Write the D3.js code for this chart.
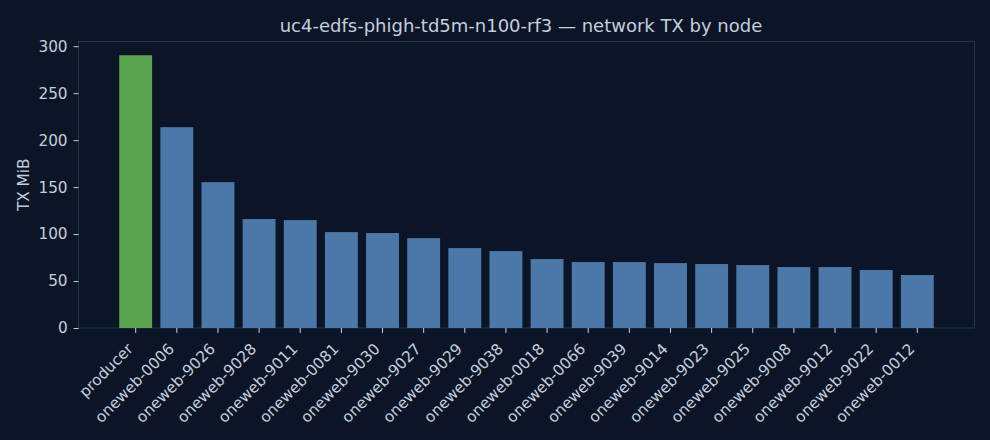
<!DOCTYPE html>
<html><head><meta charset="utf-8">
<script src="https://cdn.jsdelivr.net/npm/d3@7"></script>
<style>
html,body{margin:0;padding:0;background:#0b1527;}
svg{display:block;font-family:"DejaVu Sans",sans-serif;}
</style></head>
<body><svg id="c" width="990" height="440"></svg>
<script>
const nodes = ["producer","oneweb-0006","oneweb-9026","oneweb-9028","oneweb-9011","oneweb-0081","oneweb-9030","oneweb-9027","oneweb-9029","oneweb-9038","oneweb-0018","oneweb-0066","oneweb-9039","oneweb-9014","oneweb-9023","oneweb-9025","oneweb-9008","oneweb-9012","oneweb-9022","oneweb-0012"];
const txMiB = [290.4,213.8,155.3,116.0,114.9,102.1,101.1,95.7,85.1,81.9,73.4,70.2,70.2,69.1,68.1,67.0,64.9,64.9,61.7,56.4];
const yTicks = [0,50,100,150,200,250,300];
const title = "uc4-edfs-phigh-td5m-n100-rf3 — network TX by node";
const yLabel = "TX MiB";

const svg = d3.select("#c");
const L = 78.5, R = 974.5, T = 41.5, B = 328;
const textCol = "#c5cedd", frameCol = "#27344d";
const fs = "15.3px";

svg.append("rect").attr("width",990).attr("height",440).attr("fill","#0b1527");
svg.append("rect").attr("x",L).attr("y",T).attr("width",R-L).attr("height",B-T)
  .attr("fill","#0b1527").attr("stroke",frameCol).attr("stroke-width",1);

const x = d3.scaleBand().domain(nodes).range([L,R]).paddingInner(0.2).paddingOuter(0.99);
const y = d3.scaleLinear().domain([0, 305]).range([B, T]);

svg.append("g").selectAll("rect").data(nodes).join("rect")
  .attr("x", d => x(d)).attr("width", x.bandwidth())
  .attr("y", (d,i) => y(txMiB[i])).attr("height", (d,i) => B - y(txMiB[i]))
  .attr("fill", (d,i) => i === 0 ? "#58a14e" : "#4c78a8");

const yAxis = svg.append("g").attr("transform",`translate(${L},0)`)
  .call(d3.axisLeft(y).tickValues(yTicks).tickSize(4.9).tickPadding(6));
yAxis.select(".domain").remove();
yAxis.selectAll("line").attr("stroke",textCol);
yAxis.selectAll("text").attr("fill",textCol).style("font-size",fs).style("font-family","DejaVu Sans");

const xAxis = svg.append("g").attr("transform",`translate(0,${B})`)
  .call(d3.axisBottom(x).tickSize(4.9).tickPadding(3));
xAxis.select(".domain").remove();
xAxis.selectAll("line").attr("stroke",textCol);
xAxis.selectAll("text").attr("fill",textCol).style("font-size",fs).style("font-family","DejaVu Sans")
  .attr("text-anchor","end").attr("dy","0.35em")
  .attr("transform","translate(-5.5,18) rotate(-45)").attr("y",0).attr("x",0);

svg.append("text").attr("x",521).attr("y",32).attr("text-anchor","middle")
  .attr("fill",textCol).style("font-size","18px").text(title);
svg.append("text").attr("transform",`translate(29,${(T+B)/2}) rotate(-90)`)
  .attr("text-anchor","middle").attr("fill",textCol).style("font-size",fs).text(yLabel);
</script></body></html>
